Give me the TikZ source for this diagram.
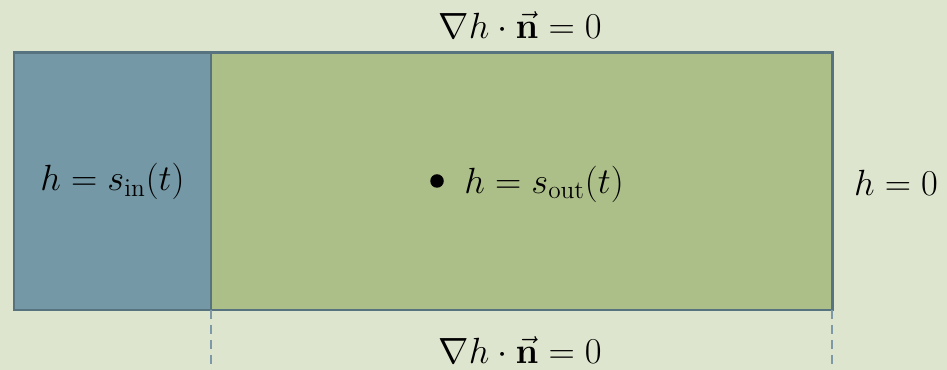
\documentclass[tikz,border=0pt]{standalone}
\usepackage{amsmath,amssymb}
\usepackage{xcolor}
\usepackage{tikz}
\usetikzlibrary{positioning, calc}
\definecolor{bgPale}{HTML}{DEE5CE}
\definecolor{inBlue}{HTML}{7498A5}
\definecolor{edgeSlate}{HTML}{57737F}
\definecolor{domGreen}{HTML}{ADBF89}
\definecolor{dashSlate}{HTML}{7D98A6}

\begin{document}
\begin{tikzpicture}[
    font=\fontsize{20.5}{24}\selectfont,
    region/.style  ={draw=edgeSlate, line width=1.7pt, inner sep=0pt, outer sep=0pt, minimum height=5.14cm},
    inletbox/.style={region, fill=inBlue, minimum width=3.94cm},
    mainbox/.style ={region, fill=domGreen, minimum width=12.42cm},
    guide/.style   ={dashSlate, line width=0.6pt, dash pattern=on 5pt off 3.5pt},
    bc/.style      ={inner sep=0pt, text=black},
]

% ---- canvas ----
\fill[bgPale] (0,0) rectangle (18.94,7.4);
\useasboundingbox (0,0) rectangle (18.94,7.4);

% ---- regions ----
\node[inletbox, anchor=north west] (inbox) at (0.28,6.34) {};
\node[mainbox, anchor=west] (dombox) at (inbox.east) {};

% ---- boundary conditions ----
\node[bc] (topbc) at (10.4,6.9) {$\nabla h\cdot\vec{\mathbf{n}}=0$};
\node[bc] (botbc) at (10.4,0.4) {$\nabla h\cdot\vec{\mathbf{n}}=0$};
\node[bc] (inbc) at (inbox.center) {$h=s_{\mathrm{in}}(t)$};
\node[circle, fill=black, inner sep=0pt, minimum size=0.27cm] (probe) at (8.74,3.78) {};
\node[bc, right=0.4cm of probe, yshift=-0.06cm] (outbc) {$h=s_{\mathrm{out}}(t)$};
\node[bc] (farbc) at (17.92,3.74) {$h=0$};

% ---- dashed guides ----
\coordinate (gl) at (inbox.south east |- 0,0);
\coordinate (gr) at (dombox.south east |- 0,0);
\draw[guide] (inbox.south east) -- (gl);
\draw[guide] (dombox.south east) -- (gr);

\end{tikzpicture}
\end{document}
